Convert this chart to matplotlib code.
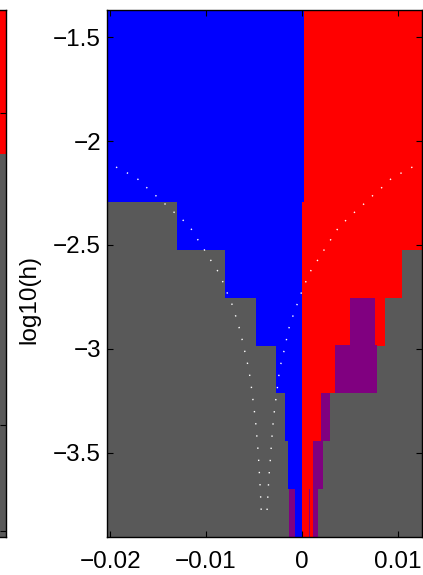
import matplotlib
matplotlib.use("Agg")
import matplotlib.pyplot as plt

# log10(h) of each row (top to bottom)
log_h = [-1.484, -1.715, -1.946, -2.176, -2.407, -2.638, -2.869,
         -3.099, -3.330, -3.561, -3.791]

# blue band per row
blue_lo = [-0.0203, -0.0203, -0.0203, -0.0203, -0.01307, -0.00804,
           -0.00475, -0.00274, -0.00180, -0.00146, -0.00066]
blue_hi = [0.0002, 0.0002, 0.0002, 0.0002, 0.0, 0.0, 0.0, 0.0, 0.0, 0.0, 0.0]

# red segments per row
red_segs = [
    [(0.0002, 0.0125)],
    [(0.0002, 0.0125)],
    [(0.0002, 0.0125)],
    [(0.0002, 0.0125)],
    [(0.0, 0.0125)],
    [(0.0, 0.01048)],
    [(0.0, 0.00504), (0.00764, 0.00868)],
    [(0.0, 0.00348)],
    [(0.0, 0.00202)],
    [(0.0, 0.00117)],
    [(0.0, 0.00075), (0.00084, 0.00117)],
]

# purple (overlap) segments per row
purple_segs = [
    [], [], [], [], [], [],
    [(0.00504, 0.00764)],
    [(0.00348, 0.00788)],
    [(0.00202, 0.00299)],
    [(0.00117, 0.00226)],
    [(-0.00128, -0.00066), (0.00075, 0.00084), (0.00117, 0.00166)],
]

# dotted boundary curves
curve_y = [-2.125, -2.152, -2.181, -2.221, -2.259, -2.298, -2.336, -2.375,
           -2.415, -2.465, -2.513, -2.562, -2.608, -2.662, -2.713, -2.766,
           -2.823, -2.876, -2.930, -2.988, -3.044, -3.101, -3.158, -3.217,
           -3.274, -3.331, -3.389, -3.447, -3.503, -3.561, -3.618, -3.676,
           -3.734, -3.792]
curve_left = [-0.01939, -0.01827, -0.01717, -0.01626, -0.01533, -0.01439,
              -0.01349, -0.01252, -0.01165, -0.01099, -0.01030, -0.00968,
              -0.00898, -0.00836, -0.00797, -0.00742, -0.00703, -0.00666,
              -0.00635, -0.00607, -0.00579, -0.00552, -0.00534, -0.00516,
              -0.00503, -0.00485, -0.00475, -0.00464, -0.00454, -0.00447,
              -0.00440, -0.00433, -0.00427, -0.00422]
curve_right = [0.01155, 0.01045, 0.00933, 0.00843, 0.00749, 0.00660,
               0.00566, 0.00476, 0.00385, 0.00316, 0.00247, 0.00184,
               0.00111, 0.00056, 0.00010, -0.00034, -0.00076, -0.00121,
               -0.00149, -0.00173, -0.00204, -0.00232, -0.00246, -0.00263,
               -0.00279, -0.00294, -0.00305, -0.00315, -0.00323, -0.00333,
               -0.00343, -0.00350, -0.00357, -0.00364]

xticks = [-0.02, -0.01, 0, 0.01]
yticks = [-3.5, -3, -2.5, -2, -1.5]
ylim = (-3.906, -1.369)
xlim = (-0.0203, 0.0125)

# neighbouring panel (cut off at the left edge)
strip_red_from = -2.061
strip_ticks = [-1.863, -3.367, -3.876]

BLUE = "#0000ff"
RED = "#ff0000"
PURPLE = "#800080"
GRAY = "#595959"

plt.rcParams["font.family"] = ["Liberation Sans", "DejaVu Sans"]

fig = plt.figure(figsize=(4.23, 5.75), dpi=100)
ax = fig.add_axes([107.3 / 423, 38 / 575, 314.2 / 423, 527 / 575])
ax.set_facecolor(GRAY)

step = abs(log_h[1] - log_h[0])
for i, y in enumerate(log_h):
    ax.barh(y, blue_hi[i] - blue_lo[i], left=blue_lo[i], height=step,
            color=BLUE, linewidth=0)
    for lo, hi in red_segs[i]:
        ax.barh(y, hi - lo, left=lo, height=step, color=RED, linewidth=0)
    for lo, hi in purple_segs[i]:
        ax.barh(y, hi - lo, left=lo, height=step, color=PURPLE, linewidth=0)

for cx in (curve_left, curve_right):
    ax.plot(cx, curve_y, color="white", lw=1.0, linestyle=(0, (1, 7.8)))

ax.set_xlim(xlim)
ax.set_ylim(ylim)
ax.set_xticks(xticks)
ax.set_xticklabels(["\u22120.02", "\u22120.01", "0", "0.01"])
ax.set_yticks(yticks)
ax.set_yticklabels(["\u22123.5", "\u22123", "\u22122.5", "\u22122", "\u22121.5"])
ax.tick_params(direction="in", length=4, width=0.8, top=True, right=True,
               labelsize=17.5, colors="black")
ax.tick_params(axis="x", pad=10)
ax.tick_params(axis="y", pad=4.5)
for s in ax.spines.values():
    s.set_linewidth(1.0)
ax.set_ylabel("log10(h)", fontsize=17.5)
ax.yaxis.set_label_coords(-0.213, 0.45)

# left neighbouring panel, mostly outside the figure
ax2 = fig.add_axes([-0.3, 38 / 575, 0.3 + 6 / 423, 527 / 575])
ax2.set_facecolor(GRAY)
ax2.set_xlim(0, 1)
ax2.set_ylim(ylim)
ax2.axhspan(strip_red_from, ylim[1], color=RED, lw=0)
ax2.set_xticks([])
ax2.set_yticks(strip_ticks)
ax2.tick_params(direction="in", length=4, width=0.8, left=False, right=True,
                labelleft=False)
for s in ax2.spines.values():
    s.set_linewidth(1.0)

fig.savefig("out.png", dpi=100)
